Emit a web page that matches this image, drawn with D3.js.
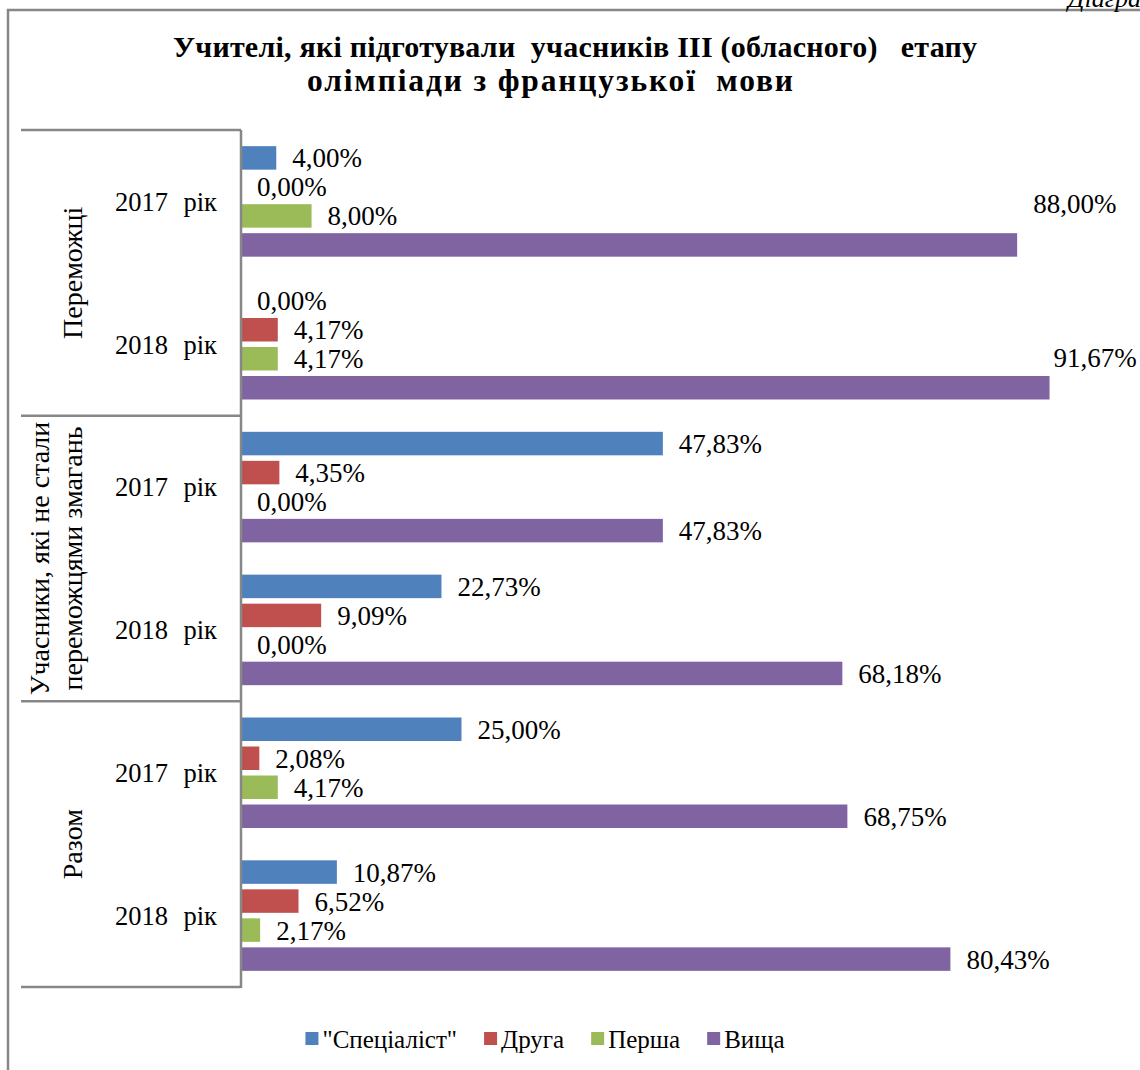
<!DOCTYPE html>
<html>
<head>
<meta charset="utf-8">
<script src="https://cdn.jsdelivr.net/npm/d3@7"></script>
<style>
  html, body { margin: 0; padding: 0; background: #fff; }
  svg { display: block; font-family: "Liberation Serif", "Times New Roman", serif; }
</style>
</head>
<body>
<script>
// ---- data ----
const groups = ["Переможці", "Учасники, які не стали переможцями змагань", "Разом"];
const groupLines = [["Переможці"], ["Учасники, які не стали", "переможцями змагань"], ["Разом"]];
const years = ["2017 рік", "2018 рік"];
const seriesNames = ['"Спеціаліст"', "Друга", "Перша", "Вища"];
const seriesColors = ["#4F81BD", "#C0504D", "#9BBB59", "#8064A2"];
// values in %, order: Переможці 2017, 2018; Учасники 2017, 2018; Разом 2017, 2018
const specialist = [4.00, 0.00, 47.83, 22.73, 25.00, 10.87];
const druha      = [0.00, 4.17, 4.35, 9.09, 2.08, 6.52];
const persha     = [8.00, 4.17, 0.00, 0.00, 4.17, 2.17];
const vyshcha    = [88.00, 91.67, 47.83, 68.18, 68.75, 80.43];
const titleLines = ["Учителі, які підготували  учасників ІІІ (обласного)   етапу", "олімпіади з французької  мови"];

const seriesValues = [specialist, druha, persha, vyshcha];
const categories = [];
groups.forEach((g, gi) => years.forEach((y, yi) => categories.push({ group: gi, year: y, idx: gi * years.length + yi })));

const W = 1140, H = 1070;
const svg = d3.select("body").append("svg").attr("width", W).attr("height", H);
const FONT = 27;
const gray = "#878787";

// frame
svg.append("path").attr("d", `M8,${H} L8,10 L${W},10`).attr("fill", "none").attr("stroke", gray).attr("stroke-width", 2.5);
// corner caption (cut off at the top edge, as in the source)
svg.append("text").attr("x", 1068).attr("y", 7).attr("font-size", 26).attr("font-style", "italic").text("Діаграма");

// title
const titleSpec = [{ x0: 173, x1: 977, y: 57, fs: 30 }, { x0: 307, x1: 793, y: 91, fs: 31.5 }];
svg.selectAll("text.title").data(titleLines).join("text")
  .attr("class", "title")
  .attr("x", (d, i) => titleSpec[i].x0)
  .attr("y", (d, i) => titleSpec[i].y)
  .attr("textLength", (d, i) => titleSpec[i].x1 - titleSpec[i].x0)
  .attr("lengthAdjust", "spacing")
  .attr("font-size", (d, i) => titleSpec[i].fs).attr("font-weight", "bold")
  .style("white-space", "pre")
  .text(d => d);

// scales
const x = d3.scaleLinear().domain([0, 100]).range([241, 1123]);
const y0 = d3.scaleBand().domain(categories.map(c => c.idx)).range([130, 987]).padding(0);
const y1 = d3.scaleBand().domain(seriesNames).range([0, y0.bandwidth()]).paddingInner(0.19).paddingOuter(0.557);

const fmt = v => d3.format(".2f")(v).replace(".", ",") + "%";

// bars
const catG = svg.selectAll("g.cat").data(categories).join("g")
  .attr("class", "cat").attr("transform", c => `translate(0,${y0(c.idx)})`);

catG.selectAll("rect").data(c => seriesNames.map((s, si) => ({ s, si, v: seriesValues[si][c.idx] })))
  .join("rect")
  .attr("x", x(0))
  .attr("y", d => y1(d.s))
  .attr("width", d => x(d.v) - x(0))
  .attr("height", y1.bandwidth())
  .attr("fill", d => seriesColors[d.si]);

// label placement adjustments for labels that do not fit right of the bar (Excel moved them up)
const labelShift = v => v >= 91 ? { dx: 4, dy: -30.5 } : v >= 85 ? { dx: 16, dy: -41 } : { dx: 16, dy: 0 };

catG.selectAll("text.lbl").data(c => seriesNames.map((s, si) => ({ s, si, v: seriesValues[si][c.idx] })))
  .join("text")
  .attr("class", "lbl")
  .attr("x", d => x(d.v) + labelShift(d.v).dx)
  .attr("y", d => y1(d.s) + y1.bandwidth() / 2 + labelShift(d.v).dy)
  .attr("dy", "0.35em")
  .attr("font-size", FONT)
  .attr("fill", "#000")
  .text(d => fmt(d.v));

// y axis line
svg.append("line").attr("x1", x(0)).attr("x2", x(0)).attr("y1", 130).attr("y2", 988)
  .attr("stroke", gray).attr("stroke-width", 2.5);

// group separators
const boundaries = d3.range(groups.length + 1).map(i => i === groups.length ? y0.range()[1] : y0(i * years.length));
svg.selectAll("line.sep").data(boundaries).join("line")
  .attr("class", "sep")
  .attr("x1", 21).attr("x2", x(0))
  .attr("y1", d => d).attr("y2", d => d)
  .attr("stroke", gray).attr("stroke-width", 2.5);

// year labels
svg.selectAll("text.year").data(categories).join("text")
  .attr("class", "year")
  .attr("x", 217)
  .attr("y", c => y0(c.idx) + y0.bandwidth() / 2)
  .attr("dy", "0.35em")
  .attr("text-anchor", "end")
  .attr("font-size", 26.5)
  .style("word-spacing", "9px")
  .text(c => c.year);

// group labels (rotated)
groups.forEach((g, gi) => {
  const cy = (boundaries[gi] + boundaries[gi + 1]) / 2;
  const lines = groupLines[gi];
  const t = svg.append("text")
    .attr("transform", `translate(0,${cy}) rotate(-90)`)
    .attr("text-anchor", "middle")
    .attr("font-size", 28);
  lines.forEach((ln, li) => {
    const bx = lines.length === 1 ? 82 : (li === 0 ? 49 : 82);
    t.append("tspan").attr("x", 0).attr("y", bx).text(ln);
  });
});

// legend
const legend = svg.append("g").attr("class", "legend");
let lx = 0;
const GAP = 27;
seriesNames.forEach((s, si) => {
  const gItem = legend.append("g");
  gItem.append("rect").attr("x", 0).attr("y", -7).attr("width", 13).attr("height", 13).attr("fill", seriesColors[si]);
  const tx = gItem.append("text").attr("x", 17).attr("y", 0).attr("dy", "0.35em").attr("font-size", 25).text(s);
  const w = 17 + tx.node().getComputedTextLength();
  gItem.attr("transform", `translate(${lx},0)`);
  lx += w + GAP;
});
const totalW = lx - GAP;
legend.attr("transform", `translate(${545 - totalW / 2},1039)`);
</script>
</body>
</html>
